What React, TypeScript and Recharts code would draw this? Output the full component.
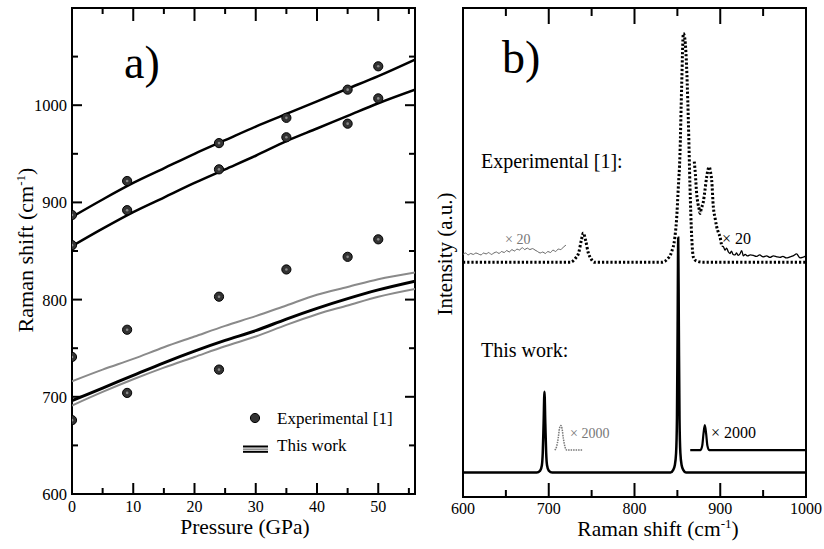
import React from "react";
import { ComposedChart, Line, Scatter, XAxis, YAxis, Customized } from "recharts";

const SERIF = "'Liberation Serif', 'Times New Roman', serif";

// ---- panel a) : Raman shift vs pressure ----
const expPressure = [0, 0, 0, 0, 9, 9, 9, 9, 24, 24, 24, 24, 35, 35, 35, 45, 45, 45, 50, 50, 50];
const expShift = [887, 856, 741, 676, 922, 892, 769, 704, 961, 934, 803, 728, 987, 967, 831, 1016, 981, 844, 1040, 1007, 862];

const calcPressure = [0, 5, 10, 15, 20, 25, 30, 35, 40, 45, 50, 56];
const calcUpper = [885, 903, 920, 935, 950, 964, 978, 991, 1004, 1017, 1030, 1047];
const calcLower = [855, 873, 890, 905, 920, 934, 948, 963, 976, 989, 1002, 1016];
const calcLowGreyHi = [716, 728, 739, 751, 762, 773, 783, 794, 805, 813, 821, 828];
const calcLowBlack = [696, 709, 722, 735, 747, 758, 768, 780, 791, 801, 810, 819];
const calcLowGreyLo = [691, 705, 718, 730, 741, 752, 762, 774, 785, 794, 803, 811];

const pressureTicks = [0, 5, 10, 15, 20, 25, 30, 35, 40, 45, 50, 55];
const shiftTicks = [600, 650, 700, 750, 800, 850, 900, 950, 1000, 1050, 1100];

// ---- panel b) : spectra (intensity in arbitrary units) ----
const thShift = [600, 686, 690, 692, 693, 694, 695, 696, 697, 698, 700, 704, 842, 845, 847, 848.5, 849.5, 850.3, 851, 851.7, 852.5, 853.5, 855, 857, 860, 1000];
const thInt = [5, 5, 5.4, 6.5, 9, 15, 21.5, 15, 9, 6.5, 5.4, 5, 5, 5.5, 6.5, 9, 16, 35, 53, 35, 16, 9, 6.5, 5.5, 5, 5];

const thZoomLShift = [707, 709, 711, 712.5, 714, 715.5, 717, 719, 721, 740];
const thZoomLInt = [9.6, 10.2, 12, 14, 14.6, 14, 12, 10.2, 9.6, 9.6];
const thZoomRShift = [865, 877, 879, 880.5, 882, 883.5, 885, 887, 1000];
const thZoomRInt = [9.6, 9.6, 10.5, 13, 14.7, 13, 10.5, 9.6, 9.6];

const exShift = [600, 725, 731, 735, 738, 740.3, 743, 746, 749, 753, 832, 838, 843, 847, 849, 851, 853, 855, 857, 858.5, 860, 862.8, 864.7, 866.7, 868.6, 872, 880, 1000];
const exInt = [48, 48, 48.8, 50, 52.5, 54, 52.5, 50, 48.8, 48, 48, 48.6, 50, 53, 56.6, 63, 70, 84, 94.8, 94, 90.8, 77, 63.5, 53.2, 49.1, 48.3, 48, 48];

const exShoulderShift = [869.7, 871, 872.5, 874, 875.6, 876.4, 878, 880.3, 882, 884.2, 885.8, 887.2, 888.6, 890, 891.9, 894, 895.8, 898, 899.7, 901.7];
const exShoulderInt = [68.6, 66, 62, 60, 58.7, 58, 59, 60.4, 62.5, 65.5, 67, 67.5, 66.5, 64.8, 59.4, 57, 55.3, 54, 53.2, 51.3];

const exNoiseRShift = [901.7, 903.6, 905.5, 907.5, 909.5, 911.4, 913, 915, 917.2, 919, 921, 923, 925, 926.9, 929, 932, 935, 938.6, 942, 946, 950, 954, 958, 962, 966, 969.7, 973, 977, 981.3, 985, 989, 993, 996, 1000];
const exNoiseRInt = [51.3, 51.2, 50.5, 50.9, 50.1, 49.8, 50.3, 49.6, 49.5, 49.9, 49.4, 49.7, 50.4, 49.3, 49.6, 49.3, 49.5, 49.4, 49.2, 49.5, 49.1, 49.3, 49.0, 49.3, 49.1, 49.0, 49.2, 48.9, 49.1, 49.3, 49.7, 48.9, 49.0, 49.3];

const exNoiseLShift = [600, 603, 606, 609, 612, 615, 618, 621, 624, 627, 630, 633, 636, 639, 642, 645, 648, 651, 654, 657, 660, 663, 666, 669, 672, 675, 678, 681, 684, 687, 690, 693, 696, 699, 702, 705, 708, 711, 714, 717, 720];
const exNoiseLInt = [49.6, 49.9, 49.5, 49.8, 49.6, 49.9, 49.7, 49.5, 49.9, 49.7, 50.0, 49.6, 49.9, 50.1, 49.8, 50.2, 50.0, 50.4, 50.1, 50.6, 50.3, 50.7, 50.5, 51.0, 50.6, 50.9, 50.6, 50.8, 50.5, 50.2, 49.9, 50.1, 49.8, 50.2, 50.0, 50.5, 50.2, 50.7, 50.6, 51.1, 51.5];

const ramanTicks = [600, 650, 700, 750, 800, 850, 900, 950, 1000];

const pts = (xs: number[], ys: number[]) => xs.map((x, i) => ({ x, y: ys[i] }));

const txt = (size: number, fill = "#000"): React.CSSProperties => ({ fontFamily: SERIF, fontSize: size, fill });

const pressureDom: [number, number] = [0, 56];
const shiftDom: [number, number] = [600, 1100];
const ramanDom: [number, number] = [600, 1000];
const intDom: [number, number] = [0, 100];

// axis tick labels (the marks are drawn by the frame layer)
function labelFn(side: "bottom" | "left", majorEvery: number, dy: number, hide: number[] = []) {
  return (props: any) => {
    const { x, y, payload } = props;
    const v = payload.value;
    if (Math.abs(v % majorEvery) > 1e-6 || hide.includes(v)) return <g />;
    return side === "bottom" ? (
      <text x={x} y={y + dy} textAnchor="middle" style={txt(16)}>{v}</text>
    ) : (
      <text x={x - 5} y={y + 6} textAnchor="end" style={txt(16.5)}>{v}</text>
    );
  };
}

type Rect = { l: number; r: number; t: number; b: number };
type FrameOpts = {
  rect: Rect; xDom: [number, number]; yDom: [number, number];
  xTicks: number[]; xMajor: number; bottom: [number, number]; top: [number, number];
  yTicks?: number[]; yMajor?: number; side?: [number, number];
};

// box around the plot with inward ticks on every side
function Frame({ rect, xDom, yDom, xTicks, xMajor, bottom, top, yTicks = [], yMajor = 1, side = [0, 0] }: FrameOpts) {
  const sx = (v: number) => rect.l + ((v - xDom[0]) / (xDom[1] - xDom[0])) * (rect.r - rect.l);
  const sy = (v: number) => rect.b - ((v - yDom[0]) / (yDom[1] - yDom[0])) * (rect.b - rect.t);
  const inner = (v: number, d: [number, number]) => v > d[0] && v < d[1];
  return (
    <g stroke="#000" strokeWidth={2} fill="none">
      <rect x={rect.l} y={rect.t} width={rect.r - rect.l} height={rect.b - rect.t} />
      {xTicks.filter((t) => inner(t, xDom)).map((t) => {
        const maj = t % xMajor === 0;
        const x = sx(t);
        return (
          <g key={"x" + t}>
            <line x1={x} x2={x} y1={rect.b} y2={rect.b - (maj ? bottom[0] : bottom[1])} />
            <line x1={x} x2={x} y1={rect.t} y2={rect.t + (maj ? top[0] : top[1])} />
          </g>
        );
      })}
      {yTicks.filter((t) => inner(t, yDom)).map((t) => {
        const len = t % yMajor === 0 ? side[0] : side[1];
        const y = sy(t);
        return (
          <g key={"y" + t}>
            <line x1={rect.l} x2={rect.l + len} y1={y} y2={y} />
            <line x1={rect.r} x2={rect.r - len} y1={y} y2={y} />
          </g>
        );
      })}
    </g>
  );
}

const Dot = (props: any) => {
  const { cx, cy } = props;
  return (
    <g>
      <circle cx={cx} cy={cy} r={4.6} fill="#333" stroke="#000" strokeWidth={1} />
      <circle cx={cx} cy={cy} r={1.3} fill="#888" />
    </g>
  );
};

const rectA: Rect = { l: 72, r: 415, t: 8, b: 494 };
const rectB: Rect = { l: 43, r: 386, t: 8, b: 497 };

function PanelAText() {
  return (
    <g>
      <Frame rect={rectA} xDom={pressureDom} yDom={shiftDom} xTicks={pressureTicks} xMajor={10}
        bottom={[11, 6]} top={[13, 6]} yTicks={shiftTicks} yMajor={100} side={[10, 6]} />
      <text x={124} y={78} style={txt(46)}>a)</text>
      <text x={33} y={250} textAnchor="middle" transform="rotate(-90 33 250)" style={txt(22)}>
        Raman shift (cm<tspan style={{ fontSize: 13 }} dy={-8}>-1</tspan>
        <tspan dy={8}>)</tspan>
      </text>
      <text x={245} y={534} textAnchor="middle" style={txt(21.5)}>Pressure (GPa)</text>
      <circle cx={255} cy={418} r={4.6} fill="#333" stroke="#000" />
      <text x={277} y={424} style={txt(17)}>Experimental [1]</text>
      <line x1={243} x2={268} y1={446.5} y2={446.5} stroke="#000" strokeWidth={2} />
      <line x1={243} x2={268} y1={449.2} y2={449.2} stroke="#888" strokeWidth={1.5} />
      <line x1={243} x2={268} y1={451.8} y2={451.8} stroke="#000" strokeWidth={2} />
      <text x={277} y={451} style={txt(17)}>This work</text>
    </g>
  );
}

function PanelBText() {
  return (
    <g>
      <Frame rect={rectB} xDom={ramanDom} yDom={intDom} xTicks={ramanTicks} xMajor={100}
        bottom={[14, 7]} top={[16, 8]} />
      <text x={82} y={73} style={txt(46)}>b)</text>
      <text x={32} y={254} textAnchor="middle" transform="rotate(-90 32 254)" style={txt(21)}>
        Intensity (a.u.)
      </text>
      <text x={238} y={536} textAnchor="middle" style={txt(21.5)}>
        Raman shift (cm<tspan style={{ fontSize: 13 }} dy={-8}>-1</tspan>
        <tspan dy={8}>)</tspan>
      </text>
      <text x={61} y={168} style={txt(20)}>Experimental [1]:</text>
      <text x={85} y={244} style={txt(14, "#777")}>× 20</text>
      <text x={302} y={244} style={txt(16)}>× 20</text>
      <text x={61} y={357} style={txt(20)}>This work:</text>
      <text x={150} y={438} style={txt(14, "#777")}>× 2000</text>
      <text x={291} y={438} style={txt(16)}>× 2000</text>
    </g>
  );
}

function curve(xs: number[], ys: number[], stroke: string, w: number, dash?: string) {
  return (
    <Line data={pts(xs, ys)} dataKey="y" type="monotone" stroke={stroke} strokeWidth={w} strokeDasharray={dash}
      dot={false} activeDot={false} isAnimationActive={false} />
  );
}

function PanelA() {
  return (
    <ComposedChart width={420} height={549} margin={{ top: 8, right: 5, bottom: 0, left: 0 }}>
      <XAxis dataKey="x" type="number" domain={pressureDom} ticks={pressureTicks} interval={0} height={55}
        tickSize={0} tickMargin={0} axisLine={false} tickLine={false}
        tick={labelFn("bottom", 10, 18)} allowDataOverflow />
      <YAxis dataKey="y" type="number" domain={shiftDom} ticks={shiftTicks} interval={0} width={72}
        tickSize={0} tickMargin={0} axisLine={false} tickLine={false}
        tick={labelFn("left", 100, 0, [1100])} allowDataOverflow />
      {curve(calcPressure, calcLowGreyHi, "#8a8a8a", 2)}
      {curve(calcPressure, calcLowGreyLo, "#8a8a8a", 2)}
      {curve(calcPressure, calcLowBlack, "#000", 3)}
      {curve(calcPressure, calcUpper, "#000", 2.5)}
      {curve(calcPressure, calcLower, "#000", 2.5)}
      <Customized component={PanelAText} />
      <Scatter data={pts(expPressure, expShift)} dataKey="y" shape={Dot} isAnimationActive={false} />
    </ComposedChart>
  );
}

function PanelB() {
  return (
    <ComposedChart width={404} height={549} margin={{ top: 8, right: 18, bottom: 0, left: 43 }}>
      <XAxis dataKey="x" type="number" domain={ramanDom} ticks={ramanTicks} interval={0} height={52}
        tickSize={0} tickMargin={0} axisLine={false} tickLine={false}
        tick={labelFn("bottom", 100, 17)} allowDataOverflow />
      <YAxis dataKey="y" type="number" domain={intDom} width={0} tick={false} tickLine={false}
        axisLine={false} allowDataOverflow />
      {curve(exNoiseLShift, exNoiseLInt, "#666", 1)}
      {curve(exNoiseRShift, exNoiseRInt, "#000", 1.3)}
      {curve(exShift, exInt, "#000", 3, "2.2 2")}
      {curve(exShoulderShift, exShoulderInt, "#000", 3, "2.2 2")}
      {curve(thZoomLShift, thZoomLInt, "#777", 1.5, "1.5 1")}
      {curve(thZoomRShift, thZoomRInt, "#000", 2.2)}
      {curve(thShift, thInt, "#000", 2.5)}
      <Customized component={PanelBText} />
    </ComposedChart>
  );
}

export default function App() {
  return (
    <div style={{ position: "absolute", left: 0, top: 0, width: 824, height: 549, background: "#fff", fontFamily: SERIF }}>
      <div style={{ position: "absolute", left: 0, top: 0 }}>
        <PanelA />
      </div>
      <div style={{ position: "absolute", left: 420, top: 0 }}>
        <PanelB />
      </div>
    </div>
  );
}
